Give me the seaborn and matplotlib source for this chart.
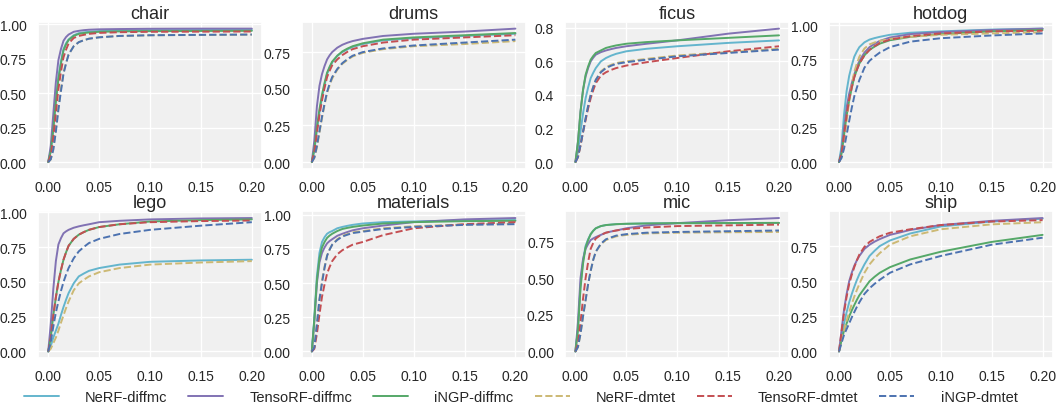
import matplotlib
matplotlib.use("Agg")
import matplotlib.pyplot as plt
import seaborn as sns

X = [0, .0025, .005, .0075, .01, .0125, .015, .0175, .02, .025, .03, .035, .04, .05, .07, .1, .15, .2]

methods = ["NeRF-diffmc", "TensoRF-diffmc", "iNGP-diffmc", "NeRF-dmtet", "TensoRF-dmtet", "iNGP-dmtet"]
scenes = ["chair", "drums", "ficus", "hotdog", "lego", "materials", "mic", "ship"]

chair = [
    [0, .08, .25, .45, .62, .73, .82, .862, .89, .92, .935, .941, .945, .95, .955, .957, .958, .958],
    [0, .12, .35, .58, .74, .82, .88, .907, .925, .945, .952, .957, .96, .963, .965, .967, .968, .968],
    [0, .08, .24, .44, .60, .715, .81, .853, .885, .915, .93, .936, .94, .945, .948, .95, .951, .952],
    [0, .02, .10, .24, .40, .53, .65, .72, .78, .84, .87, .884, .895, .905, .915, .92, .922, .925],
    [0, .05, .18, .36, .53, .655, .76, .815, .86, .90, .915, .923, .93, .937, .942, .945, .946, .947],
    [0, .02, .09, .22, .38, .515, .64, .715, .78, .84, .87, .884, .895, .905, .915, .92, .923, .925],
]
drums = [
    [0, .08, .22, .34, .44, .525, .60, .645, .68, .725, .75, .769, .785, .805, .83, .845, .86, .875],
    [0, .15, .38, .52, .60, .655, .70, .728, .75, .78, .80, .814, .825, .84, .86, .875, .89, .91],
    [0, .09, .24, .36, .46, .54, .61, .65, .685, .725, .755, .774, .79, .81, .835, .85, .865, .88],
    [0, .03, .10, .20, .30, .39, .47, .524, .57, .63, .67, .697, .72, .745, .77, .79, .805, .825],
    [0, .07, .20, .32, .42, .505, .58, .623, .66, .70, .73, .752, .77, .79, .815, .835, .85, .865],
    [0, .03, .11, .21, .31, .40, .48, .534, .58, .635, .675, .702, .725, .75, .775, .795, .815, .835],
]
ficus = [
    [0, .06, .18, .29, .38, .445, .50, .532, .56, .60, .62, .634, .645, .66, .675, .69, .71, .725],
    [0, .12, .30, .43, .51, .56, .60, .622, .64, .655, .665, .673, .68, .69, .705, .725, .765, .795],
    [0, .12, .30, .43, .52, .57, .61, .632, .65, .665, .68, .688, .695, .705, .715, .725, .74, .755],
    [0, .03, .10, .18, .26, .335, .40, .448, .49, .54, .565, .579, .59, .60, .615, .635, .655, .675],
    [0, .03, .10, .18, .25, .32, .38, .428, .47, .515, .535, .549, .56, .575, .595, .62, .66, .69],
    [0, .03, .10, .18, .26, .335, .40, .448, .49, .535, .56, .574, .585, .595, .61, .63, .65, .67],
]
hotdog = [
    [0, .12, .35, .52, .63, .705, .77, .808, .84, .875, .895, .906, .915, .93, .945, .955, .968, .975],
    [0, .08, .25, .40, .50, .575, .64, .693, .74, .80, .84, .864, .885, .91, .935, .95, .965, .975],
    [0, .06, .20, .34, .45, .54, .62, .673, .72, .78, .82, .844, .865, .89, .915, .935, .955, .965],
    [0, .04, .15, .30, .45, .56, .66, .718, .77, .83, .86, .874, .885, .90, .915, .93, .94, .948],
    [0, .06, .20, .34, .46, .545, .62, .673, .72, .78, .82, .847, .87, .895, .92, .94, .955, .96],
    [0, .03, .10, .20, .30, .395, .48, .543, .60, .69, .74, .772, .80, .84, .88, .905, .925, .94],
]
lego = [
    [0, .04, .10, .15, .20, .262, .32, .372, .42, .49, .54, .561, .58, .60, .625, .645, .655, .66],
    [0, .20, .45, .65, .77, .815, .85, .864, .875, .89, .90, .908, .915, .93, .94, .95, .957, .96],
    [0, .10, .26, .39, .50, .585, .66, .713, .76, .81, .84, .859, .875, .895, .915, .935, .945, .95],
    [0, .02, .06, .10, .15, .207, .26, .312, .36, .44, .49, .516, .54, .57, .60, .625, .64, .65],
    [0, .10, .26, .39, .50, .585, .66, .713, .76, .81, .84, .859, .875, .895, .915, .93, .938, .942],
    [0, .07, .18, .28, .36, .435, .50, .553, .60, .67, .72, .752, .78, .81, .845, .875, .905, .93],
]
materials = [
    [0, .25, .55, .72, .80, .835, .86, .872, .88, .90, .91, .918, .925, .935, .945, .95, .957, .96],
    [0, .22, .50, .65, .72, .76, .79, .807, .82, .845, .86, .873, .885, .90, .92, .945, .965, .975],
    [0, .24, .52, .68, .76, .80, .83, .847, .86, .88, .895, .903, .91, .92, .935, .945, .952, .955],
    [0, .03, .20, .38, .52, .62, .70, .745, .78, .82, .845, .858, .87, .88, .90, .915, .928, .935],
    [0, .02, .13, .27, .40, .49, .57, .618, .66, .71, .74, .761, .78, .80, .85, .90, .93, .945],
    [0, .03, .20, .38, .50, .61, .70, .745, .78, .815, .84, .853, .865, .875, .895, .91, .925, .93],
]
mic = [
    [0, .15, .45, .62, .72, .765, .80, .823, .84, .855, .862, .865, .868, .87, .873, .875, .875, .876],
    [0, .20, .50, .63, .70, .733, .76, .771, .78, .795, .81, .818, .825, .84, .86, .875, .895, .91],
    [0, .15, .43, .60, .71, .76, .80, .823, .84, .855, .862, .865, .868, .871, .873, .875, .876, .877],
    [0, .03, .12, .24, .35, .46, .55, .625, .68, .73, .76, .773, .785, .795, .805, .81, .813, .815],
    [0, .05, .20, .36, .50, .61, .70, .74, .77, .795, .81, .818, .825, .835, .845, .855, .86, .865],
    [0, .03, .12, .24, .35, .46, .55, .625, .68, .735, .765, .778, .79, .80, .81, .815, .82, .825],
]
ship = [
    [0, .10, .20, .28, .35, .408, .46, .508, .55, .62, .68, .717, .75, .79, .84, .89, .925, .945],
    [0, .15, .30, .41, .50, .56, .61, .648, .68, .73, .76, .782, .80, .83, .865, .90, .93, .95],
    [0, .08, .15, .20, .25, .292, .33, .367, .40, .45, .50, .532, .56, .60, .655, .71, .78, .83],
    [0, .08, .15, .22, .28, .337, .39, .437, .48, .56, .62, .663, .70, .76, .82, .87, .905, .92],
    [0, .14, .28, .39, .48, .545, .60, .648, .69, .745, .78, .801, .82, .845, .87, .90, .925, .935],
    [0, .06, .12, .16, .20, .242, .28, .317, .35, .41, .45, .482, .51, .56, .62, .68, .76, .81],
]

scene_data = [chair, drums, ficus, hotdog, lego, materials, mic, ship]

deep = sns.color_palette("deep")
colors = [deep[9], deep[4], deep[2], deep[8], deep[3], deep[0]]
styles = ["-", "-", "-", "--", "--", "--"]

sns.set_theme(style="darkgrid", rc={"axes.facecolor": "#f0f0f0", "grid.color": "white"})
plt.rcParams["font.family"] = ["Liberation Sans", "DejaVu Sans"]

fig, axes = plt.subplots(2, 4, figsize=(10.57, 4.10), dpi=100)
fig.subplots_adjust(left=0.036, right=0.996, top=0.944, bottom=0.124, wspace=0.177, hspace=0.29)

for ax, name, data in zip(axes.flat, scenes, scene_data):
    for m, vals, c, ls in zip(methods, data, colors, styles):
        sns.lineplot(x=X, y=vals, ax=ax, color=c, linestyle=ls, linewidth=1.4, label=m)
    ax.set_title(name, fontsize=13, pad=3)
    ax.set_xticks([0, 0.05, 0.1, 0.15, 0.2])
    ax.set_xticklabels(["0.00", "0.05", "0.10", "0.15", "0.20"])
    ax.tick_params(labelsize=10, pad=2, colors="#262626")
    ax.set_xlabel("")
    ax.set_ylabel("")
    if ax.get_legend() is not None:
        ax.get_legend().remove()

handles, labels = axes.flat[0].get_legend_handles_labels()
fig.legend(handles, labels, loc="lower left", ncol=6, mode="expand",
           bbox_to_anchor=(0.01, -0.02, 0.965, 0.07), frameon=False,
           fontsize=10.5, handlelength=2.4, handletextpad=1.8)

fig.savefig("out.png", dpi=100)
